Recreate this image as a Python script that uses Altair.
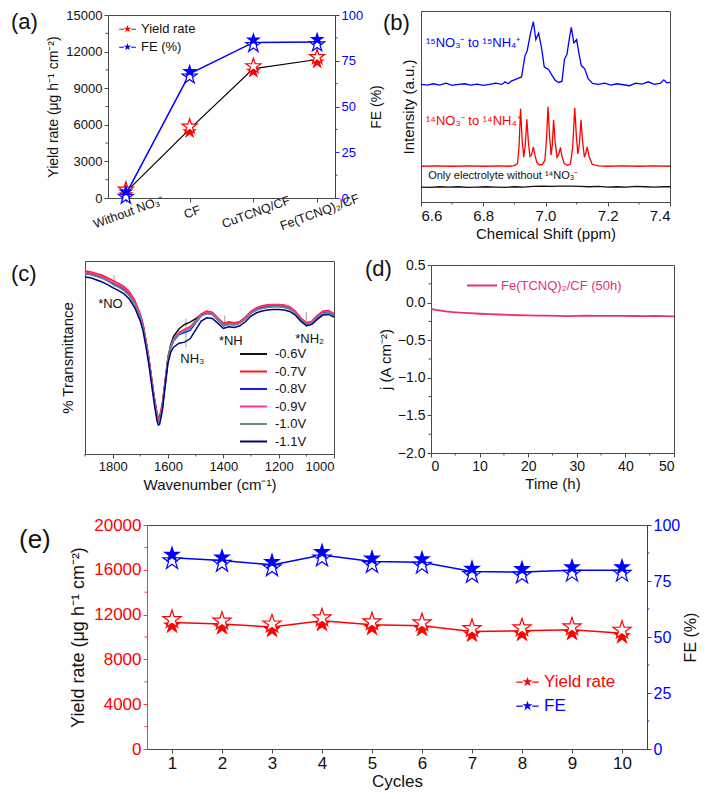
import altair as alt
import pandas as pd

FONT = "Liberation Sans"
RED = "#ff0000"
BLUE = "#0000ff"
FRAME = "#4a4a4a"
INK = "#111111"
PINK = "#e8307a"
AXRED = "#ff3b3b"
AXBLUE = "#2b2bff"

STAR = ("M0,-1L0.225,-0.309L0.951,-0.309L0.363,0.118L0.588,0.809L0,0.382"
        "L-0.588,0.809L-0.363,0.118L-0.951,-0.309L-0.225,-0.309Z")
STAR_LEG = STAR + "M-2.1,-0.08L-0.9,-0.08L-0.9,0.16L-2.1,0.16ZM0.9,-0.08L2.1,-0.08L2.1,0.16L0.9,0.16Z"
LINE_LEG = "M-3,0L3,0"

# ---------------- (a) ----------------
a_catalysts = ["Without NO₃⁻", "CF", "CuTCNQ/CF", "Fe(TCNQ)₂/CF"]
a_yield_rate = [480, 5650, 10600, 11350]
a_fe = [2.0, 67.8, 85.0, 85.3]
a_yield_ticks = [0, 3000, 6000, 9000, 12000, 15000]
a_yield_minor = [1500, 4500, 7500, 10500, 13500]
a_fe_ticks = [0, 25, 50, 75, 100]
a_fe_minor = [12.5, 37.5, 62.5, 87.5]

# ---------------- (b) ----------------
b_black_ppm = [6.60, 6.63, 6.66, 6.69, 6.72, 6.75, 6.78, 6.81, 6.84, 6.87, 6.90, 6.93, 6.96, 6.99,
               7.02, 7.05, 7.08, 7.11, 7.14, 7.17, 7.20, 7.23, 7.26, 7.29, 7.32, 7.35, 7.38, 7.40]
b_black_int = [46, 45, 47, 46, 47, 45, 46, 47, 46, 45, 47, 46, 48, 49,
               48, 49, 49, 48, 47, 48, 46, 47, 46, 48, 47, 46, 47, 47]
b_red_ppm = [6.60, 6.65, 6.70, 6.75, 6.80, 6.85, 6.88, 6.90, 6.910, 6.915,
             6.920, 6.925, 6.930, 6.935, 6.940, 6.945, 6.950, 6.955, 6.961, 6.966,
             6.972, 6.980, 6.990, 6.998, 7.003, 7.008, 7.013, 7.018, 7.022, 7.026,
             7.031, 7.037, 7.043, 7.048, 7.053, 7.060, 7.070, 7.080, 7.087, 7.094,
             7.099, 7.104, 7.109, 7.114, 7.119, 7.125, 7.130, 7.134, 7.140, 7.150,
             7.170, 7.200, 7.250, 7.300, 7.350, 7.400]
b_red_int = [110, 111, 110, 111, 110, 111, 110, 112, 118, 170,
             287, 190, 138, 175, 255, 185, 140, 145, 170, 145,
             122, 114, 116, 128, 190, 293, 205, 145, 178, 253,
             185, 138, 148, 168, 140, 118, 113, 117, 165, 289,
             205, 148, 180, 253, 188, 138, 152, 170, 140, 116,
             111, 110, 111, 110, 111, 110]
b_blue_ppm = [6.60, 6.62, 6.64, 6.66, 6.68, 6.70, 6.72, 6.74, 6.76, 6.78,
              6.80, 6.82, 6.84, 6.86, 6.87, 6.88, 6.89, 6.90, 6.91, 6.923,
              6.934, 6.941, 6.952, 6.961, 6.969, 6.978, 6.988, 6.996, 7.010, 7.021,
              7.031, 7.042, 7.053, 7.061, 7.069, 7.077, 7.083, 7.091, 7.100, 7.107,
              7.115, 7.126, 7.137, 7.151, 7.17, 7.19, 7.21, 7.23, 7.25, 7.27,
              7.29, 7.31, 7.33, 7.35, 7.37, 7.38, 7.39, 7.40]
b_blue_int = [362, 360, 364, 360, 366, 359, 362, 364, 360, 363,
              359, 362, 366, 362, 370, 364, 372, 376, 380, 385,
              450, 465, 520, 555, 500, 520, 470, 415, 408, 390,
              375, 368, 372, 440, 455, 505, 538, 490, 500, 460,
              420, 410, 380, 365, 362, 366, 360, 364, 361, 358,
              366, 363, 370, 362, 366, 376, 367, 368]
b_ticks = [6.6, 6.8, 7.0, 7.2, 7.4]
b_minor = [6.7, 6.9, 7.1, 7.3]
b_labels = ["¹⁵NO₃⁻ to ¹⁵NH₄⁺", "¹⁴NO₃⁻ to ¹⁴NH₄⁺", "Only electrolyte without ¹⁴NO₃⁻"]
b_label_ppm = [6.616, 6.616, 6.623]
b_label_int = [490, 250, 80]
b_label_color = [BLUE, RED, INK]
b_label_size = [13, 13, 11]

# ---------------- (c) ----------------
c_wavenumber = [1900, 1880, 1860, 1840, 1820, 1800, 1780, 1760, 1740, 1720,
                1700, 1690, 1680, 1670, 1660, 1650, 1640, 1635, 1630, 1620,
                1610, 1600, 1590, 1580, 1560, 1540, 1520, 1500, 1480, 1460,
                1440, 1420, 1400, 1380, 1360, 1340, 1320, 1300, 1280, 1260,
                1240, 1220, 1200, 1180, 1160, 1140, 1120, 1100, 1080, 1060,
                1040, 1020, 1000]
c_m06 = [542, 540, 535, 530, 522, 512, 505, 495, 480, 455, 415, 385, 340, 290, 230, 170, 120, 105, 108, 150,
         220, 290, 328, 352, 375, 388, 395, 405, 418, 424, 421, 405, 388, 393, 390, 395, 408, 425, 435, 440,
         443, 445, 445, 443, 438, 425, 405, 390, 395, 412, 425, 427, 418]
c_m07 = [548, 546, 541, 536, 529, 520, 512, 502, 487, 460, 418, 388, 343, 292, 232, 172, 125, 110, 113, 155,
         222, 288, 322, 342, 362, 372, 380, 398, 420, 428, 425, 408, 392, 396, 393, 397, 410, 428, 438, 444,
         447, 448, 448, 446, 441, 428, 408, 393, 398, 415, 428, 430, 420]
c_m08 = [540, 538, 533, 528, 520, 510, 502, 492, 476, 450, 410, 380, 334, 284, 224, 164, 112, 97, 100, 142,
         212, 282, 318, 338, 358, 364, 370, 392, 414, 422, 420, 402, 384, 389, 387, 392, 405, 422, 432, 437,
         440, 442, 442, 440, 435, 423, 404, 388, 393, 410, 423, 425, 416]
c_m09 = [544, 542, 537, 532, 524, 514, 506, 497, 482, 456, 416, 386, 340, 290, 230, 170, 118, 102, 105, 147,
         216, 286, 322, 345, 365, 374, 382, 398, 418, 425, 422, 406, 388, 392, 390, 394, 407, 426, 436, 442,
         445, 447, 446, 444, 439, 426, 406, 391, 396, 413, 426, 428, 419]
c_m10 = [539, 537, 532, 527, 519, 508, 500, 490, 474, 448, 408, 378, 333, 283, 223, 163, 112, 98, 101, 143,
         214, 284, 320, 340, 360, 368, 376, 394, 414, 420, 418, 401, 385, 388, 386, 391, 404, 421, 431, 436,
         439, 441, 441, 439, 434, 422, 403, 388, 392, 409, 421, 423, 414]
c_m11 = [530, 528, 522, 516, 508, 498, 490, 480, 464, 438, 398, 368, 322, 272, 212, 152, 100, 87, 90, 132,
         204, 272, 305, 320, 332, 335, 345, 372, 398, 408, 406, 392, 376, 381, 379, 384, 396, 413, 423, 428,
         431, 433, 433, 431, 427, 416, 398, 384, 388, 404, 416, 418, 410]
c_voltages = ["-0.6V", "-0.7V", "-0.8V", "-0.9V", "-1.0V", "-1.1V"]
c_colors = ["#111111", "#ff1a1a", "#1a1aff", "#ff3399", "#5f8f8f", "#000080"]
c_series = [c_m06, c_m07, c_m08, c_m09, c_m10, c_m11]
c_ticks = [1800, 1600, 1400, 1200, 1000]
c_minor = [1900, 1700, 1500, 1300, 1100]
c_ann_text = ["*NO", "NH₃", "*NH", "*NH₂"]
c_ann_wn = [1808, 1512, 1373, 1088]
c_ann_t = [450, 285, 338, 345]
c_mark_wn = [1795, 1535, 1395, 1100]
c_mark_lo = [500, 320, 375, 380]
c_mark_hi = [535, 405, 415, 425]

# ---------------- (d) ----------------
d_time = [0, 1, 2, 3, 4, 5, 6, 8, 10, 12, 14, 16, 18, 20, 22, 24, 26, 28, 30, 32, 34, 36, 38, 40, 42, 44, 46, 48, 50]
d_current = [-0.085, -0.097, -0.107, -0.116, -0.123, -0.129, -0.134, -0.141, -0.148, -0.153, -0.158, -0.163,
             -0.168, -0.171, -0.172, -0.174, -0.176, -0.179, -0.176, -0.175, -0.176, -0.177, -0.177, -0.176,
             -0.178, -0.179, -0.178, -0.180, -0.182]
d_label = "Fe(TCNQ)₂/CF (50h)"
d_xticks = [0, 10, 20, 30, 40, 50]
d_xminor = [5, 15, 25, 35, 45]
d_yticks = [-2.0, -1.5, -1.0, -0.5, 0.0, 0.5]
d_yminor = [-1.75, -1.25, -0.75, -0.25, 0.25]

# ---------------- (e) ----------------
e_cycles = [1, 2, 3, 4, 5, 6, 7, 8, 9, 10]
e_yield = [11290, 11150, 10900, 11440, 11090, 11000, 10490, 10550, 10640, 10340]
e_fe = [85.4, 84.2, 82.2, 86.6, 83.7, 83.4, 79.2, 79.0, 79.8, 79.8]
e_yield_ticks = [0, 4000, 8000, 12000, 16000, 20000]
e_yield_minor = [2000, 6000, 10000, 14000, 18000]
e_fe_ticks = [0, 25, 50, 75, 100]
e_fe_minor = [12.5, 37.5, 62.5, 87.5]


# ---------------- helpers ----------------
def ax(**kw):
    base = dict(grid=False, domainColor=FRAME, tickColor=FRAME, labelColor=INK, titleColor=INK,
                tickSize=4, labelFont=FONT, titleFont=FONT, titleFontWeight="normal",
                domainWidth=1, tickWidth=1, labelPadding=2)
    base.update(kw)
    return alt.Axis(**base)


def ptitle(text, dx, dy, size=22):
    return alt.TitleParams(text=text, anchor="start", frame="group", orient="top", dx=dx, dy=dy,
                           offset=0, baseline="top", fontSize=size, fontWeight="normal",
                           font=FONT, color=INK)


def minor_x(values, kw, h, color=FRAME):
    return alt.Chart(pd.DataFrame({"m": values})).mark_rule(color=color, strokeWidth=1).encode(
        x=alt.X("m:Q", **kw), y=alt.value(h), y2=alt.value(h + 2.5))


def minor_y(values, kw, x0, x1, color=FRAME):
    return alt.Chart(pd.DataFrame({"m": values})).mark_rule(color=color, strokeWidth=1).encode(
        y=alt.Y("m:Q", **kw), x=alt.value(x0), x2=alt.value(x1))


def stars(df, x, y, color, size, off, fill, top_filled):
    filled = alt.Chart(df).mark_point(shape=STAR, filled=True, size=size, opacity=1,
                                      yOffset=(-off if top_filled else off)).encode(x=x, y=y, fill=fill)
    hollow = alt.Chart(df).mark_point(shape=STAR, filled=True, fill="white", stroke=color,
                                      strokeWidth=1.2, size=size, opacity=1,
                                      yOffset=(off if top_filled else -off)).encode(x=x, y=y)
    return [hollow, filled] if top_filled else [filled, hollow]


def spacer(w, h):
    return alt.Chart(pd.DataFrame({"s": [0]})).mark_rect(opacity=0).encode(
        x=alt.value(0), x2=alt.value(0), y=alt.value(0), y2=alt.value(0)).properties(
        width=w, height=h, view=alt.ViewBackground(stroke="transparent", fill="transparent"))


def place(panel, x, y):
    row = alt.hconcat(spacer(x, 1), panel, spacing=0, bounds="flush").resolve_scale(
        color="independent", fill="independent")
    return alt.vconcat(spacer(1, y), row, spacing=0, bounds="flush").resolve_scale(
        color="independent", fill="independent")


# ---------------- panel (a) ----------------
W_A, H_A = 227, 183
df_a_y = pd.DataFrame({"cat": a_catalysts, "val": a_yield_rate, "series": "Yield rate"})
df_a_f = pd.DataFrame({"cat": a_catalysts, "val": a_fe, "series": "FE (%)"})
xa = alt.X("cat:N", sort=a_catalysts,
           scale=alt.Scale(type="point", domain=a_catalysts, padding=0.28),
           axis=ax(title=None, labelAngle=340, labelAlign="center", labelBaseline="top",
                   labelFontSize=12.5, labelPadding=4))
ya_kw = dict(scale=alt.Scale(domain=[0, 15000], nice=False),
             axis=ax(values=a_yield_ticks, format="d", title="Yield rate (μg h⁻¹ cm⁻²)",
                     orient="left", labelFontSize=13, titleFontSize=14, titlePadding=5))
fa_kw = dict(scale=alt.Scale(domain=[0, 100], nice=False),
             axis=ax(values=a_fe_ticks, format="d", title="FE (%)", orient="right",
                     labelFontSize=13, titleFontSize=14, titlePadding=7, titleAngle=270,
                     titleBaseline="top", domainColor=AXBLUE, tickColor=AXBLUE, labelColor=BLUE))
leg_a = alt.Legend(title=None, orient="none", legendX=13, legendY=7.5, padding=0,
                   symbolType=STAR_LEG, symbolSize=64, labelFont=FONT, labelFontSize=13,
                   labelColor=INK, labelOffset=7, rowPadding=4)
fill_a = alt.Fill("series:N", scale=alt.Scale(domain=["Yield rate", "FE (%)"], range=[RED, BLUE]),
                  legend=leg_a)
a_left = alt.layer(
    alt.Chart(df_a_y).mark_line(color="black", strokeWidth=1.2).encode(x=xa, y=alt.Y("val:Q", **ya_kw)),
    *stars(df_a_y, xa, alt.Y("val:Q", **ya_kw), RED, 250, 2.5, fill_a, top_filled=False),
    minor_y(a_yield_minor, ya_kw, -2.5, 0),
)
a_right = alt.layer(
    alt.Chart(df_a_f).mark_line(color=BLUE, strokeWidth=1.5).encode(x=xa, y=alt.Y("val:Q", **fa_kw)),
    *stars(df_a_f, xa, alt.Y("val:Q", **fa_kw), BLUE, 250, 2.5, fill_a, top_filled=True),
    minor_y(a_fe_minor, fa_kw, W_A, W_A + 2.5, AXBLUE),
)
panel_a = alt.layer(a_left, a_right).resolve_scale(y="independent").properties(
    width=W_A, height=H_A, view=alt.ViewBackground(stroke=FRAME), title=ptitle("(a)", -97, 25))

# ---------------- panel (b) ----------------
W_B, H_B = 249, 191
df_b = pd.concat([
    pd.DataFrame({"ppm": b_black_ppm, "inten": b_black_int, "trace": "black"}),
    pd.DataFrame({"ppm": b_red_ppm, "inten": b_red_int, "trace": "red"}),
    pd.DataFrame({"ppm": b_blue_ppm, "inten": b_blue_int, "trace": "blue"}),
])
xb_kw = dict(scale=alt.Scale(domain=[6.6, 7.4], nice=False),
             axis=ax(values=b_ticks, format=".1f", title="Chemical Shift (ppm)", labelFontSize=15,
                     titleFontSize=15, titlePadding=3))
yb_kw = dict(scale=alt.Scale(domain=[0, 588], nice=False),
             axis=ax(labels=False, ticks=False, title="Intensity (a.u.)", titleFontSize=15, titlePadding=5))
lines_b = alt.Chart(df_b).mark_line(strokeWidth=1.3).encode(
    x=alt.X("ppm:Q", **xb_kw), y=alt.Y("inten:Q", **yb_kw),
    color=alt.Color("trace:N", scale=alt.Scale(domain=["black", "red", "blue"], range=[INK, RED, BLUE]),
                    legend=None))
df_bt = pd.DataFrame({"ppm": b_label_ppm, "inten": b_label_int, "lab": b_labels,
                      "col": b_label_color, "fs": b_label_size})
text_b = alt.Chart(df_bt).mark_text(align="left", baseline="middle", font=FONT).encode(
    x=alt.X("ppm:Q", **xb_kw), y=alt.Y("inten:Q", **yb_kw), text="lab:N",
    color=alt.Color("col:N", scale=None), size=alt.Size("fs:Q", scale=None))
panel_b = alt.layer(lines_b, text_b, minor_x(b_minor, xb_kw, H_B)).properties(
    width=W_B, height=H_B, view=alt.ViewBackground(stroke=FRAME), title=ptitle("(b)", -38, 24))

# ---------------- panel (c) ----------------
W_C, H_C = 249, 193
df_c = pd.DataFrame([
    {"wn": w, "T": t, "V": v}
    for v, arr in zip(c_voltages, c_series)
    for w, t in zip(c_wavenumber, arr)
])
xc_kw = dict(scale=alt.Scale(domain=[1000, 1900], reverse=True, nice=False),
             axis=ax(values=c_ticks, format="d", title="Wavenumber (cm⁻¹)", labelFontSize=13,
                     titleFontSize=15, titlePadding=4))
yc_kw = dict(scale=alt.Scale(domain=[0, 578], nice=False),
             axis=ax(labels=False, ticks=False, title="% Transmittance", titleFontSize=15, titlePadding=10))
leg_c = alt.Legend(title=None, orient="none", legendX=162, legendY=86.5, padding=0,
                   symbolType=LINE_LEG, symbolSize=81, symbolStrokeWidth=2, labelFont=FONT,
                   labelFontSize=13, labelColor=INK, labelOffset=15, rowPadding=3.5)
lines_c = alt.Chart(df_c).mark_line(strokeWidth=1.5).encode(
    x=alt.X("wn:Q", **xc_kw), y=alt.Y("T:Q", **yc_kw),
    color=alt.Color("V:N", sort=c_voltages, scale=alt.Scale(domain=c_voltages, range=c_colors),
                    legend=leg_c))
df_cm = pd.DataFrame({"wn": c_mark_wn, "lo": c_mark_lo, "hi": c_mark_hi})
marks_c = alt.Chart(df_cm).mark_rule(color="#b0b0b0", strokeWidth=1.2).encode(
    x=alt.X("wn:Q", **xc_kw), y=alt.Y("lo:Q", **yc_kw), y2="hi:Q")
df_ca = pd.DataFrame({"wn": c_ann_wn, "T": c_ann_t, "lab": c_ann_text})
text_c = alt.Chart(df_ca).mark_text(align="center", baseline="middle", font=FONT, fontSize=13,
                                    color=INK).encode(
    x=alt.X("wn:Q", **xc_kw), y=alt.Y("T:Q", **yc_kw), text="lab:N")
panel_c = alt.layer(marks_c, lines_c, text_c, minor_x(c_minor, xc_kw, H_C)).properties(
    width=W_C, height=H_C, view=alt.ViewBackground(stroke=FRAME), title=ptitle("(c)", -74, 25))

# ---------------- panel (d) ----------------
W_D, H_D = 243, 188
df_d = pd.DataFrame({"t": d_time, "j": d_current, "lab": d_label})
xd_kw = dict(scale=alt.Scale(domain=[0, 50], nice=False),
             axis=ax(values=d_xticks, format="d", title="Time (h)", labelFontSize=14,
                     titleFontSize=15, titlePadding=3))
yd_kw = dict(scale=alt.Scale(domain=[-2.0, 0.5], nice=False),
             axis=ax(values=d_yticks, format=".1f", title="j (A cm⁻²)", labelFontSize=14,
                     titleFontSize=15, titlePadding=4))
leg_d = alt.Legend(title=None, orient="none", legendX=44.5, legendY=14, padding=0,
                   symbolType=LINE_LEG, symbolSize=100, symbolStrokeWidth=2, labelFont=FONT,
                   labelFontSize=13, labelColor=PINK, labelOffset=12.5)
line_d = alt.Chart(df_d).mark_line(strokeWidth=1.8).encode(
    x=alt.X("t:Q", **xd_kw), y=alt.Y("j:Q", **yd_kw),
    color=alt.Color("lab:N", scale=alt.Scale(domain=[d_label], range=[PINK]), legend=leg_d))
panel_d = alt.layer(line_d, minor_x(d_xminor, xd_kw, H_D), minor_y(d_yminor, yd_kw, -2.5, 0)).properties(
    width=W_D, height=H_D, view=alt.ViewBackground(stroke=FRAME), title=ptitle("(d)", -66, 23))

# ---------------- panel (e) ----------------
W_E, H_E = 500, 224
df_e_y = pd.DataFrame({"cycle": e_cycles, "val": e_yield, "series": "Yield rate"})
df_e_f = pd.DataFrame({"cycle": e_cycles, "val": e_fe, "series": "FE"})
xe = alt.X("cycle:Q", scale=alt.Scale(domain=[0.5, 10.5], nice=False),
           axis=ax(values=e_cycles, format="d", title="Cycles", labelFontSize=17, titleFontSize=17,
                   titlePadding=2))
ye_kw = dict(scale=alt.Scale(domain=[0, 20000], nice=False),
             axis=ax(values=e_yield_ticks, format="d", title="Yield rate (μg h⁻¹ cm⁻²)", orient="left",
                     labelFontSize=17, titleFontSize=18, titlePadding=6, domainColor=AXRED,
                     tickColor=AXRED, labelColor=RED))
fe_kw = dict(scale=alt.Scale(domain=[0, 100], nice=False),
             axis=ax(values=e_fe_ticks, format="d", title="FE (%)", orient="right", labelFontSize=16,
                     titleFontSize=16, titlePadding=3, titleAngle=270, titleBaseline="top",
                     domainColor=AXBLUE, tickColor=AXBLUE, labelColor=BLUE))
leg_e = alt.Legend(title=None, orient="none", legendX=372, legendY=148.5, padding=0,
                   symbolType=STAR_LEG, symbolSize=112, labelFont=FONT, labelFontSize=17,
                   labelOffset=8, rowPadding=6,
                   labelColor=alt.ExprRef("datum.value === 'FE' ? '#0000ff' : '#ff0000'"))
fill_e = alt.Fill("series:N", scale=alt.Scale(domain=["Yield rate", "FE"], range=[RED, BLUE]), legend=leg_e)
e_left = alt.layer(
    alt.Chart(df_e_y).mark_line(color=RED, strokeWidth=1.5).encode(x=xe, y=alt.Y("val:Q", **ye_kw)),
    *stars(df_e_y, xe, alt.Y("val:Q", **ye_kw), RED, 361, 3, fill_e, top_filled=False),
    minor_y(e_yield_minor, ye_kw, -2.5, 0, AXRED),
)
e_right = alt.layer(
    alt.Chart(df_e_f).mark_line(color=BLUE, strokeWidth=1.5).encode(x=xe, y=alt.Y("val:Q", **fe_kw)),
    *stars(df_e_f, xe, alt.Y("val:Q", **fe_kw), BLUE, 361, 3, fill_e, top_filled=True),
    minor_y(e_fe_minor, fe_kw, W_E, W_E + 2.5, AXBLUE),
)
panel_e = alt.layer(e_left, e_right).resolve_scale(y="independent").properties(
    width=W_E, height=H_E, view=alt.ViewBackground(stroke=FRAME), title=ptitle("(e)", -128, 36.5, 26))

# ---------------- layout (absolute placement of each panel) ----------------
chart = alt.vconcat(
    place(panel_a, 99, 5),
    place(panel_b, 412, 1),
    place(panel_c, 76, 251),
    place(panel_d, 422, 255),
    place(panel_e, 138, 515),
    spacing=0, bounds="flush", padding=0,
).resolve_scale(color="independent", fill="independent").configure_view(
    stroke="transparent").configure(font=FONT)

chart.save("out.html", embed_options={"renderer": "svg", "actions": False})
